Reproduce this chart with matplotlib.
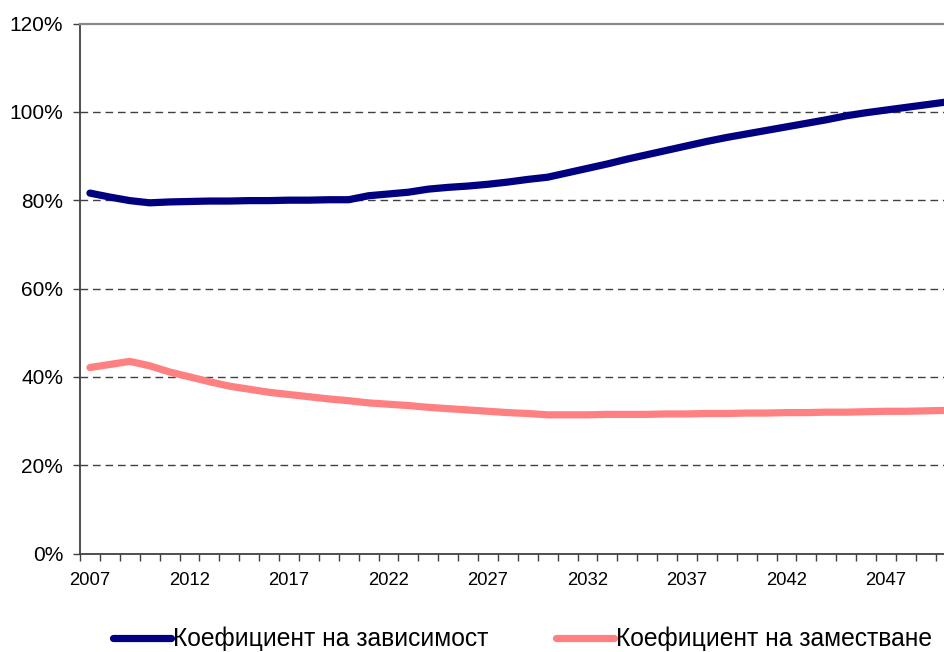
import matplotlib
matplotlib.use("Agg")
import matplotlib.pyplot as plt
from matplotlib.ticker import FuncFormatter

years = list(range(2007, 2051))
dependency = [81.6, 80.7, 79.9, 79.4, 79.6, 79.7, 79.8, 79.8, 79.9, 79.9,
              80.0, 80.0, 80.1, 80.1, 81.0, 81.4, 81.8, 82.5, 82.9, 83.2,
              83.6, 84.1, 84.7, 85.2, 86.2, 87.2, 88.2, 89.3, 90.3, 91.3,
              92.3, 93.3, 94.2, 95.0, 95.8, 96.6, 97.4, 98.2, 99.1, 99.8,
              100.4, 101.0, 101.6, 102.2]
replacement = [42.1, 42.8, 43.5, 42.5, 41.1, 40.0, 38.9, 37.9, 37.2, 36.5,
               36.0, 35.5, 35.0, 34.6, 34.1, 33.8, 33.5, 33.1, 32.8, 32.5,
               32.2, 31.9, 31.7, 31.4, 31.4, 31.4, 31.5, 31.5, 31.5, 31.6,
               31.6, 31.7, 31.7, 31.8, 31.8, 31.9, 31.9, 32.0, 32.0, 32.1,
               32.2, 32.2, 32.3, 32.4]
labels = ["Коефициент на зависимост", "Коефициент на заместване"]
label_years = list(range(2007, 2050, 5))
y_ticks = [0, 20, 40, 60, 80, 100, 120]

plt.rcParams['font.family'] = ['Liberation Sans', 'DejaVu Sans']

W, H = 944, 652
fig = plt.figure(figsize=(W / 100, H / 100), dpi=100)
ax = fig.add_axes([80 / W, (H - 553.5) / H, 1 - 80 / W + 0.02, (553.5 - 23.5) / H])

ax.plot(years, dependency, color='#000080', lw=5.2, solid_capstyle='round',
        solid_joinstyle='round', label=labels[0], zorder=3)
ax.plot(years, replacement, color='#FF8080', lw=5.2, solid_capstyle='round',
        solid_joinstyle='round', label=labels[1], zorder=3)

# x range: category axis, left edge at 2006.5
px_per_year = 19.9
xmax = 2006.5 + (W * (1 - 80 / W + 0.02)) / px_per_year
ax.set_xlim(2006.5, xmax)
ax.set_ylim(0, 120)

ax.set_yticks(y_ticks)
ax.yaxis.set_major_formatter(FuncFormatter(lambda v, p: f"{int(v)}%"))
ax.tick_params(axis='y', direction='out', length=5, width=1, color='#404040',
               labelsize=15, pad=7)

ax.set_xticks(label_years)
ax.set_xticklabels([str(y) for y in label_years])
ax.set_xticks([y + 0.5 for y in range(2006, 2051)], minor=True)
ax.tick_params(axis='x', which='major', length=0, labelsize=13.3, pad=13)
ax.tick_params(axis='x', which='minor', direction='out', length=5, width=1,
               color='#404040')

for v in y_ticks[1:-1]:
    ax.axhline(v, color='#404040', lw=1, linestyle=(0, (5.5, 3.5)), zorder=1)

ax.spines['right'].set_visible(False)
ax.spines['left'].set_color('#404040')
ax.spines['left'].set_linewidth(1.3)
ax.spines['bottom'].set_color('#404040')
ax.spines['bottom'].set_linewidth(1.3)
ax.spines['top'].set_color('#888888')
ax.spines['top'].set_linewidth(1.6)

leg = fig.legend(loc='center left', bbox_to_anchor=(113 / W, 1 - 639 / H),
                 ncol=2, frameon=False, fontsize=17.7, borderpad=0,
                 borderaxespad=0, handlelength=2.35, handletextpad=0.1,
                 columnspacing=2.75)
for line in leg.get_lines():
    line.set_linewidth(5.2)

fig.savefig("out.png", dpi=100)
